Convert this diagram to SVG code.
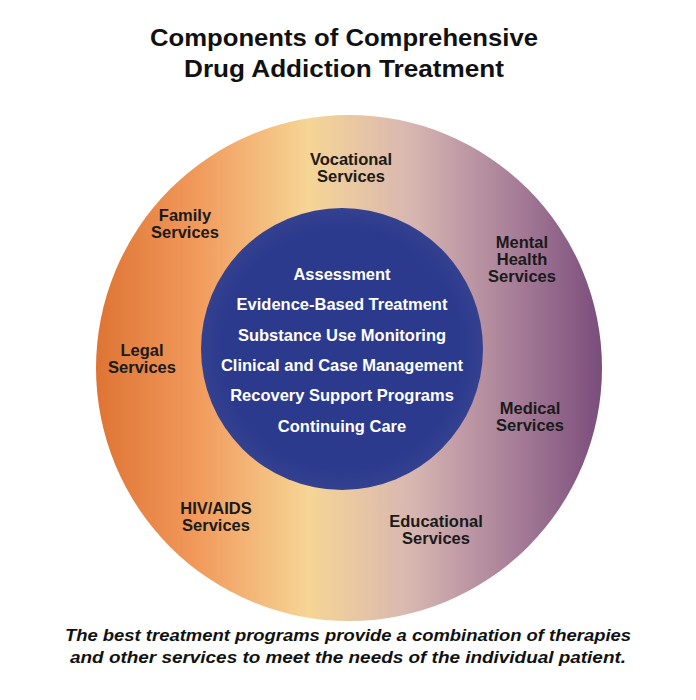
<svg xmlns="http://www.w3.org/2000/svg" width="696" height="700" viewBox="0 0 696 700">
<defs>
<linearGradient id="ring" x1="0" y1="0" x2="1" y2="0">
<stop offset="0" stop-color="#de7434"/>
<stop offset="0.2" stop-color="#f19a5c"/>
<stop offset="0.42" stop-color="#f6d595"/>
<stop offset="0.62" stop-color="#d8b7b2"/>
<stop offset="0.82" stop-color="#a98099"/>
<stop offset="1" stop-color="#7a4d7c"/>
</linearGradient>
<radialGradient id="core" cx="0.5" cy="0.5" r="0.5">
<stop offset="0.85" stop-color="#2c3a8e"/>
<stop offset="1" stop-color="#34418f"/>
</radialGradient>
<style>
.t{font-family:"Liberation Sans",Arial,sans-serif;font-weight:bold;text-anchor:middle}
.h{font-size:24px;fill:#111}
.o{font-size:16.5px;fill:#1a1a1a}
.i{font-size:16.5px;fill:#fff}
.f{font-size:16px;fill:#111;font-style:italic}
</style>
</defs>
<rect width="696" height="700" fill="#fff"/>
<text class="t h" x="344" y="46" textLength="388" lengthAdjust="spacingAndGlyphs">Components of Comprehensive</text>
<text class="t h" x="344" y="77" textLength="320" lengthAdjust="spacingAndGlyphs">Drug Addiction Treatment</text>
<g id="outer"><circle cx="349" cy="368" r="253" fill="url(#ring)"/></g>
<g id="inner"><circle cx="342" cy="349" r="141" fill="url(#core)"/>
<text class="t i" x="342" y="280">Assessment</text>
<text class="t i" x="342" y="310">Evidence-Based Treatment</text>
<text class="t i" x="342" y="341">Substance Use Monitoring</text>
<text class="t i" x="342" y="371">Clinical and Case Management</text>
<text class="t i" x="342" y="401">Recovery Support Programs</text>
<text class="t i" x="342" y="432">Continuing Care</text>
</g>
<g id="vocational"><text class="t o" x="351" y="165">Vocational</text><text class="t o" x="351" y="182">Services</text></g>
<g id="family"><text class="t o" x="185" y="221">Family</text><text class="t o" x="185" y="238">Services</text></g>
<g id="mental"><text class="t o" x="522" y="248">Mental</text><text class="t o" x="522" y="265">Health</text><text class="t o" x="522" y="282">Services</text></g>
<g id="legal"><text class="t o" x="142" y="356">Legal</text><text class="t o" x="142" y="373">Services</text></g>
<g id="medical"><text class="t o" x="530" y="414">Medical</text><text class="t o" x="530" y="431">Services</text></g>
<g id="hiv"><text class="t o" x="216" y="514">HIV/AIDS</text><text class="t o" x="216" y="531">Services</text></g>
<g id="educational"><text class="t o" x="436" y="527">Educational</text><text class="t o" x="436" y="544">Services</text></g>
<text class="t f" x="348" y="641" textLength="566" lengthAdjust="spacingAndGlyphs">The best treatment programs provide a combination of therapies</text>
<text class="t f" x="348" y="663" textLength="556" lengthAdjust="spacingAndGlyphs">and other services to meet the needs of the individual patient.</text>
</svg>
